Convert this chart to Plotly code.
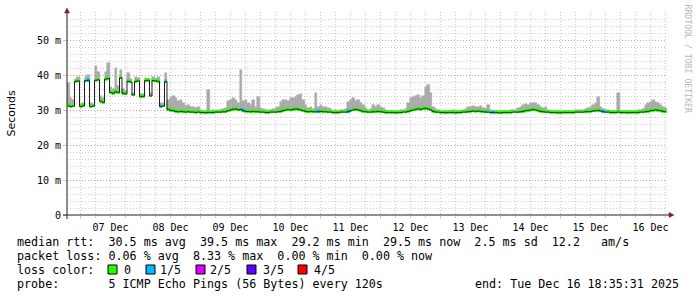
import plotly.graph_objects as go
import pandas as pd

# ---------------- data (hourly bins) ----------------
start_time = "2025-12-06 18:35:31"
end_time = "2025-12-16 18:35:31"
bin_hours = 1

median_ms = [
    31.2, 31.0, 31.1, 38.2, 38.3, 31.0, 31.2, 38.4, 38.5, 31.0,
    31.1, 38.5, 38.6, 32.5, 32.2, 38.8, 39.0, 35.0, 34.8, 35.2,
    35.0, 39.2, 34.8, 34.6, 38.2, 38.0, 34.3, 38.2, 38.3, 33.8,
    33.9, 38.4, 38.5, 34.0, 38.4, 38.3, 38.2, 31.0, 31.1, 38.1,
    30.2, 29.9, 29.8, 29.6, 29.5, 29.6, 29.5, 29.4, 29.5, 29.4,
    29.4, 29.3, 29.4, 29.3, 29.3, 29.2, 29.3, 29.3, 29.3, 29.4,
    29.4, 29.4, 29.5, 29.5, 29.8, 30.0, 30.2, 30.3, 30.0, 30.2,
    29.8, 29.6, 29.6, 29.5, 29.6, 29.5, 29.5, 29.4, 29.4, 29.3,
    29.3, 29.4, 29.4, 29.4, 29.5, 29.6, 29.8, 30.0, 30.1, 30.0,
    30.2, 30.3, 30.2, 30.0, 29.8, 29.6, 29.5, 29.6, 29.5, 29.5,
    29.5, 29.6, 29.5, 29.5, 29.4, 29.4, 29.3, 29.3, 29.3, 29.4,
    29.4, 29.4, 29.5, 29.8, 30.0, 30.2, 30.0, 29.8, 29.6, 29.5,
    29.4, 29.4, 29.5, 29.5, 29.6, 29.5, 29.4, 29.3, 29.3, 29.3,
    29.3, 29.2, 29.3, 29.3, 29.4, 29.4, 29.6, 29.8, 30.0, 30.2,
    30.3, 30.2, 30.4, 30.5, 30.3, 30.0, 29.6, 29.4, 29.4, 29.3,
    29.3, 29.2, 29.3, 29.3, 29.3, 29.2, 29.3, 29.3, 29.4, 29.4,
    29.5, 29.6, 29.7, 29.6, 29.7, 29.6, 29.5, 29.4, 29.4, 29.3,
    29.3, 29.3, 29.2, 29.2, 29.3, 29.3, 29.3, 29.3, 29.4, 29.4,
    29.4, 29.5, 29.6, 29.8, 29.9, 30.0, 30.1, 30.0, 29.8, 29.6,
    29.5, 29.4, 29.4, 29.3, 29.3, 29.3, 29.2, 29.2, 29.3, 29.3,
    29.3, 29.3, 29.3, 29.4, 29.4, 29.4, 29.4, 29.5, 29.5, 29.6,
    29.7, 29.8, 29.9, 29.7, 29.5, 29.4, 29.4, 29.3, 29.3, 29.3,
    29.4, 29.3, 29.3, 29.3, 29.2, 29.3, 29.3, 29.3, 29.3, 29.4,
    29.4, 29.5, 29.6, 29.8, 29.9, 30.0, 29.9, 29.8, 29.6, 29.5,
]

smoke_max_ms = [
    37.8, 33.5, 33.0, 39.0, 39.5, 31.8, 32.0, 39.5, 40.0, 32.0,
    31.8, 42.6, 41.0, 34.0, 33.5, 41.0, 43.3, 36.5, 36.0, 42.0,
    37.0, 41.5, 36.0, 35.5, 40.5, 39.0, 35.0, 39.5, 39.2, 34.5,
    34.5, 39.2, 39.0, 35.0, 39.5, 39.0, 39.5, 32.0, 32.0, 40.7,
    33.0, 33.5, 34.0, 33.4, 32.6, 33.0, 32.0, 31.2, 31.4, 31.0,
    30.8, 30.6, 31.0, 30.0, 29.8, 29.7, 35.7, 29.8, 29.9, 29.8,
    29.9, 30.0, 30.2, 30.5, 32.5, 33.0, 33.5, 32.8, 32.0, 41.4,
    32.5, 33.0, 32.0, 31.5, 33.0, 31.0, 33.8, 30.5, 30.2, 29.9,
    30.0, 29.9, 30.3, 30.5, 31.0, 32.3, 32.8, 33.0, 32.5, 33.3,
    33.5, 33.8, 34.3, 34.5, 33.0, 31.5, 30.5, 31.0, 30.3, 34.8,
    31.0, 31.3, 30.8, 31.0, 30.5, 30.3, 29.8, 29.9, 29.8, 30.0,
    30.0, 30.2, 32.3, 33.0, 33.4, 32.5, 33.0, 32.0, 31.5, 30.5,
    30.0, 30.2, 31.5, 31.0, 31.5, 31.0, 30.5, 29.9, 29.8, 29.8,
    29.8, 29.7, 29.8, 29.9, 30.0, 30.2, 32.0, 33.5, 33.8, 34.0,
    34.3, 33.5, 34.0, 36.5, 37.1, 35.0, 31.0, 30.2, 29.9, 29.8,
    29.8, 29.7, 29.8, 29.8, 29.9, 29.7, 29.8, 29.8, 30.0, 30.2,
    30.8, 31.0, 31.1, 31.0, 30.9, 31.1, 30.6, 30.2, 31.3, 29.9,
    29.8, 29.8, 29.7, 29.7, 29.8, 29.8, 29.8, 29.9, 30.0, 30.0,
    30.6, 31.0, 31.5, 31.8, 31.5, 32.0, 32.1, 32.1, 31.5, 31.0,
    30.5, 30.8, 30.0, 29.8, 29.8, 29.8, 29.7, 29.7, 29.8, 29.8,
    29.8, 29.8, 29.8, 29.9, 29.9, 30.0, 30.0, 30.2, 30.5, 31.0,
    31.5, 32.0, 33.8, 31.0, 30.3, 30.0, 29.9, 29.8, 29.8, 29.8,
    34.8, 29.8, 29.8, 29.8, 29.7, 29.8, 29.8, 29.8, 29.9, 30.0,
    30.2, 31.4, 32.0, 32.4, 32.9, 32.4, 32.0, 31.5, 31.0, 30.5,
]

# lost pings out of 5 per bin
loss_fifths = [
    0, 0, 0, 0, 0, 0, 0, 0, 1, 0, 0, 0, 0, 0, 0, 0, 0, 0, 0, 0,
    0, 0, 0, 0, 0, 0, 0, 0, 0, 0, 0, 0, 0, 0, 0, 0, 0, 1, 0, 1,
    0, 0, 0, 0, 0, 0, 0, 0, 0, 0, 0, 0, 0, 0, 0, 0, 0, 0, 0, 0,
    0, 0, 0, 0, 0, 0, 0, 0, 0, 0, 1, 0, 0, 0, 0, 0, 0, 0, 0, 0,
    0, 0, 0, 0, 0, 0, 0, 0, 0, 0, 0, 0, 0, 0, 0, 0, 0, 0, 0, 0,
    1, 0, 0, 0, 0, 0, 0, 0, 0, 0, 0, 0, 1, 0, 0, 0, 0, 0, 0, 0,
    0, 0, 0, 0, 0, 0, 0, 0, 0, 0, 0, 0, 0, 0, 0, 0, 0, 0, 0, 0,
    0, 0, 0, 0, 0, 0, 0, 0, 0, 0, 0, 0, 0, 0, 0, 0, 0, 0, 0, 0,
    0, 0, 0, 0, 0, 0, 0, 1, 0, 0, 1, 0, 0, 0, 0, 0, 0, 0, 0, 0,
    0, 0, 0, 0, 0, 0, 0, 0, 0, 0, 0, 0, 0, 0, 0, 0, 0, 0, 0, 0,
    0, 0, 0, 0, 0, 0, 0, 0, 0, 0, 0, 0, 0, 0, 1, 0, 0, 0, 0, 0,
    0, 0, 0, 0, 0, 0, 0, 0, 0, 0, 0, 0, 0, 0, 0, 0, 0, 0, 0, 0,
]

loss_labels = ["0", "1/5", "2/5", "3/5", "4/5"]
loss_colors = ["#26ff00", "#00b8ff", "#dd00ff", "#5e00ff", "#ff0000"]

y_tick_vals = [0, 10, 20, 30, 40, 50]
y_tick_text = ["0", "10 m", "20 m", "30 m", "40 m", "50 m"]

legend_lines = [
    "median rtt:  30.5 ms avg  39.5 ms max  29.2 ms min  29.5 ms now  2.5 ms sd  12.2   am/s",
    "packet loss: 0.06 % avg  8.33 % max  0.00 % min  0.00 % now",
    "loss color:",
    "probe:       5 ICMP Echo Pings (56 Bytes) every 120s",
]
end_text = "end: Tue Dec 16 18:35:31 2025"

# ---------------- layout geometry (pixels) ----------------
W, H = 697, 297
PL, PR, PT, PB = 67, 667, 12, 215


def px(x):
    return (x - PL) / (PR - PL)


def py(y):
    return (PB - y) / (PB - PT)


t0 = pd.Timestamp(start_time)
t1 = pd.Timestamp(end_time)
n = len(median_ms)
step = pd.Timedelta(hours=bin_hours)
times = [t0 + step / 2 + step * i for i in range(n)]
bin_ms = step.total_seconds() * 1000

fig = go.Figure()

# smoke
fig.add_trace(go.Bar(
    x=times, base=median_ms,
    y=[mx - md for mx, md in zip(smoke_max_ms, median_ms)],
    width=bin_ms, marker=dict(color="#aaaaaa", line=dict(width=0.5, color="#aaaaaa")),
    hoverinfo="skip", showlegend=False))

# median line
fig.add_trace(go.Scatter(
    x=times, y=median_ms, mode="lines",
    line=dict(color="#202020", width=1, shape="hvh"),
    hoverinfo="skip", showlegend=False))

# loss-coloured median bars
half = 0.38
for cls, col in enumerate(loss_colors):
    bases = [m - half if l == cls else None for m, l in zip(median_ms, loss_fifths)]
    hts = [2 * half if l == cls else None for l in loss_fifths]
    if all(b is None for b in bases):
        continue
    fig.add_trace(go.Bar(
        x=times, base=bases, y=hts, width=bin_ms,
        marker=dict(color=col, line=dict(width=0.5, color=col)),
        hoverinfo="skip", showlegend=False))

grid_minor = "rgba(128,128,128,0.38)"
grid_major = "rgba(224,79,79,0.42)"
mono = "DejaVu Sans Mono"
dots = "1px,2px"

fig.update_layout(
    template="none",
    width=W, height=H,
    margin=dict(l=PL, r=W - PR, t=PT, b=H - PB, pad=0),
    paper_bgcolor="white", plot_bgcolor="white",
    font=dict(family=mono, color="#000000"),
    barmode="overlay", bargap=0,
    showlegend=False,
    xaxis=dict(
        type="date", range=[t0, t1],
        dtick=86400000, tick0="2025-12-07 00:00:00",
        tickformat="%d %b", ticklabelmode="period",
        showgrid=True, gridcolor=grid_major, griddash=dots, gridwidth=1,
        ticks="outside", ticklen=3, tickcolor=grid_major, tickwidth=1,
        color="#000000",
        tickfont=dict(family=mono, size=10, color="#000000"),
        minor=dict(dtick=21600000, showgrid=True, gridcolor=grid_minor, gridwidth=1,
                   griddash=dots, ticks="outside", ticklen=2, tickcolor=grid_minor),
        showline=False, zeroline=False, fixedrange=True,
    ),
    yaxis=dict(
        range=[0, 58], tickvals=y_tick_vals, ticktext=y_tick_text,
        showgrid=True, gridcolor=grid_major, griddash=dots, gridwidth=1,
        ticks="outside", ticklen=3, tickcolor=grid_major, tickwidth=1,
        color="#000000",
        tickfont=dict(family=mono, size=10, color="#000000"),
        minor=dict(dtick=2, showgrid=True, gridcolor=grid_minor, gridwidth=1, griddash=dots),
        showline=False, zeroline=False, fixedrange=True,
    ),
)

axis_col = "#1f1f1f"
arrow_col = "#801f1f"
shapes = [
    dict(type="line", xref="paper", yref="paper", x0=px(63), x1=px(670), y0=py(215), y1=py(215),
         line=dict(color=axis_col, width=1), layer="above"),
    dict(type="line", xref="paper", yref="paper", x0=px(67), x1=px(67), y0=py(219), y1=py(11),
         line=dict(color=axis_col, width=1), layer="above"),
    dict(type="path", xref="paper", yref="paper",
         path=f"M {px(64.5)} {py(13)} L {px(67)} {py(8)} L {px(69.5)} {py(13)} Z",
         fillcolor=arrow_col, line=dict(color=arrow_col, width=0.5), layer="above"),
    dict(type="path", xref="paper", yref="paper",
         path=f"M {px(669)} {py(212.5)} L {px(674)} {py(215)} L {px(669)} {py(217.5)} Z",
         fillcolor=arrow_col, line=dict(color=arrow_col, width=0.5), layer="above"),
]

# legend colour boxes
box_x = [108, 146, 196, 247, 298]
label_x = [123, 159, 209, 261.5, 313]
for bx, col in zip(box_x, loss_colors):
    shapes.append(dict(type="rect", xref="paper", yref="paper",
                       x0=px(bx), x1=px(bx + 9), y0=py(274), y1=py(265),
                       fillcolor=col, line=dict(color="#000000", width=1)))
fig.update_layout(shapes=shapes)

ann = []
line_y = [241.5, 255.5, 269.5, 283.5]
for txt, yy in zip(legend_lines, line_y):
    ann.append(dict(text=txt.replace(" ", "&nbsp;"), xref="paper", yref="paper",
                    x=px(15), y=py(yy), xanchor="left", yanchor="middle",
                    showarrow=False, font=dict(family=mono, size=11.7, color="#000000")))
for lx, lab in zip(label_x, loss_labels):
    ann.append(dict(text=lab, xref="paper", yref="paper", x=px(lx - 1), y=py(line_y[2]),
                    xanchor="left", yanchor="middle", showarrow=False,
                    font=dict(family=mono, size=11.7, color="#000000")))
ann.append(dict(text=end_text.replace(" ", "&nbsp;"), xref="paper", yref="paper",
                x=px(681), y=py(line_y[3]), xanchor="right", yanchor="middle",
                showarrow=False, font=dict(family=mono, size=11.7, color="#000000")))
ann.append(dict(text="Seconds", xref="paper", yref="paper", x=px(11), y=py(113.5),
                xanchor="center", yanchor="middle", textangle=-90, showarrow=False,
                font=dict(family="DejaVu Sans", size=11, color="#000000")))
ann.append(dict(text="RRDTOOL&nbsp;/&nbsp;TOBI&nbsp;OETIKER", xref="paper", yref="paper",
                x=px(687.5), y=py(59), xanchor="center", yanchor="middle", textangle=90,
                showarrow=False, font=dict(family=mono, size=8.2, color="#b8b8b8")))
fig.update_layout(annotations=ann)

fig.write_html("out.html")
